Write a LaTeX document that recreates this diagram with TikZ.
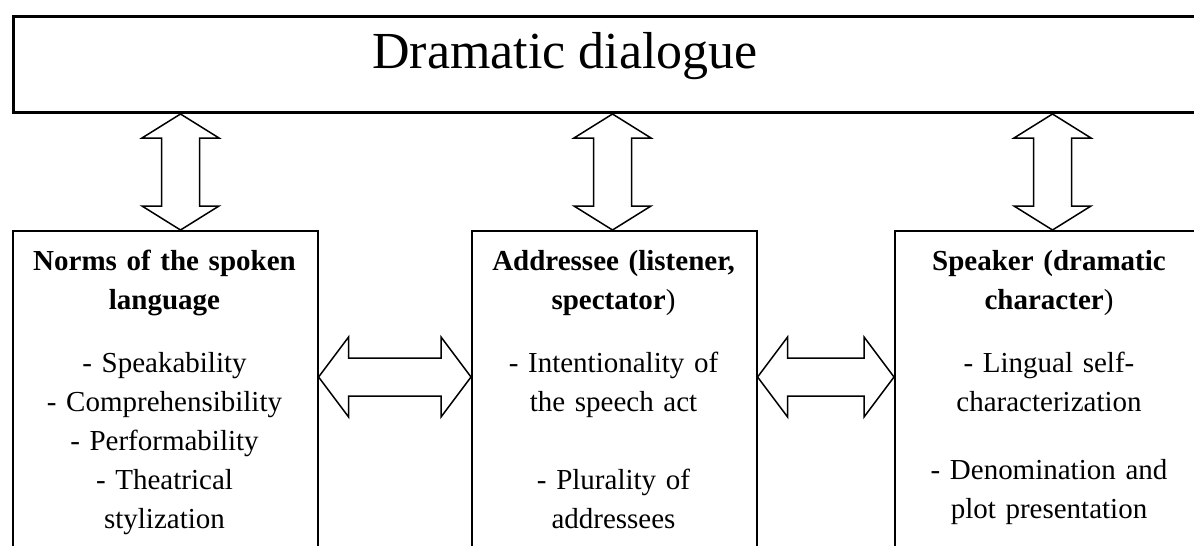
\documentclass[tikz,border=0pt]{standalone}
\usepackage{fontspec}
\setmainfont{Liberation Serif}
\usetikzlibrary{calc}

\tikzset{
  topbox/.style={draw, line width=1.5pt, minimum width=596pt,
    minimum height=48pt, inner sep=0pt, anchor=north west},
  lowbox/.style={draw, line width=0.8pt, minimum height=170pt,
    inner sep=0pt, anchor=north west},
  boxtext/.style={align=center, anchor=base, inner sep=0pt,
    font=\fontsize{14.5}{19.5}\selectfont},
  blockarrow/.style={draw, line width=0.75pt, fill=white, line join=miter}
}

% vertical double block arrow: top tip, bottom tip
\newcommand{\vdouble}[2]{%
  \draw[blockarrow] (#1) -- ++(38.5,24) -- ++(-19.5,0) -- ($(#2)+(19,-24)$)
    -- ++(19.5,0) -- (#2) -- ++(-38.5,-24) -- ++(19.5,0)
    -- ($(#1)+(-19,24)$) -- ++(-19.5,0) -- cycle;}
% horizontal double block arrow: left tip, right tip
\newcommand{\hdouble}[2]{%
  \draw[blockarrow] (#1) -- ++(30,-40) -- ++(0,21) -- ($(#2)+(-30,-19)$)
    -- ++(0,-21) -- (#2) -- ++(-30,40) -- ++(0,-21)
    -- ($(#1)+(30,19)$) -- ++(0,21) -- cycle;}

\begin{document}
\begin{tikzpicture}[x=0.5pt, y=-0.5pt]
  \useasboundingbox (0,0) rectangle (1194,546);
  \clip (0,0) rectangle (1194,546);

  % Top box
  \node[topbox] (dialogue) at (12,15) {};
  \node[anchor=base, inner sep=0pt, font=\fontsize{26}{30}\selectfont]
    (title) at (565,68) {Dramatic dialogue};

  % Lower boxes
  \node[lowbox, minimum width=152.5pt] (norms) at (12,230) {};
  \node[lowbox, minimum width=142.5pt] (addressee) at (471,230) {};
  \node[lowbox, minimum width=155pt] (speaker) at (894,230) {};

  % Box texts
  \node[boxtext, text width=150pt] (normstext) at (164.5,270)
    {\textbf{Norms of the spoken}\\ \textbf{language}\\[12pt]
     - Speakability\\ - Comprehensibility\\ - Performability\\
     - Theatrical\\ stylization};
  \node[boxtext, text width=140pt] (addrtext) at (613.5,270)
    {\textbf{Addressee (listener,}\\ \textbf{spectator})\\[12pt]
     - Intentionality of\\ the speech act\\[19.5pt]
     - Plurality of\\ addressees};
  \node[boxtext, text width=150pt] (spktext) at (1049,270)
    {\textbf{Speaker (dramatic}\\ \textbf{character})\\[12pt]
     - Lingual self-\\ characterization\\[14.5pt]
     - Denomination and\\ plot presentation};

  % Arrow positions
  \coordinate (va) at (180.5,0);
  \coordinate (vb) at (612.5,0);
  \coordinate (vc) at (1052.5,0);
  \coordinate (hy) at (0,377);

  \vdouble{dialogue.south -| va}{norms.north -| va}
  \vdouble{dialogue.south -| vb}{addressee.north -| vb}
  \vdouble{dialogue.south -| vc}{speaker.north -| vc}

  \hdouble{norms.east |- hy}{addressee.west |- hy}
  \hdouble{addressee.east |- hy}{speaker.west |- hy}
\end{tikzpicture}
\end{document}
